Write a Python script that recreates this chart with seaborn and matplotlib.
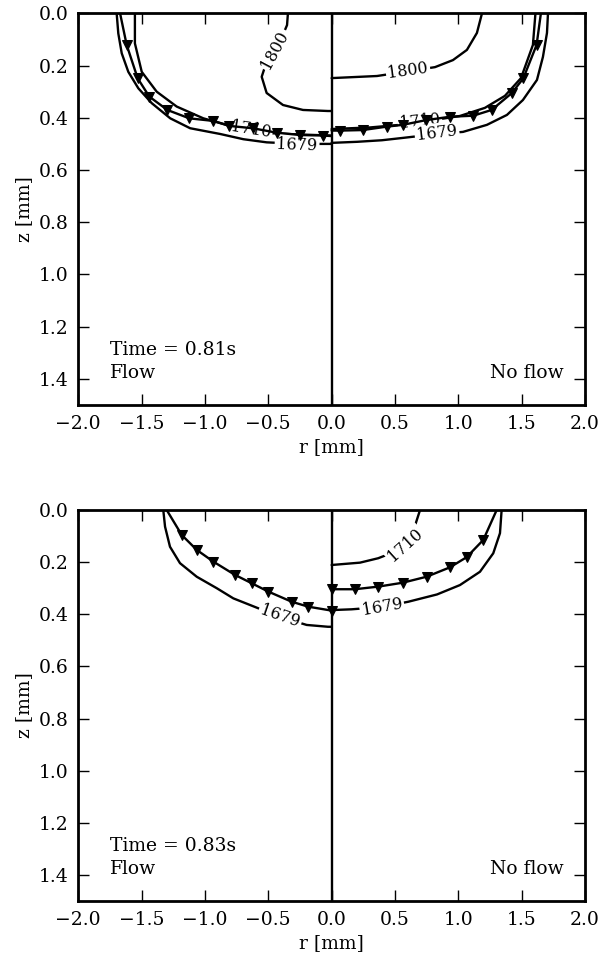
import numpy as np
import matplotlib
matplotlib.use("Agg")
import matplotlib.pyplot as plt
import seaborn as sns

# ---------------- data (r [mm], z [mm]) ----------------
# Panel 1: Time = 0.81 s
t1_flow_1679_r = [-1.697, -1.684, -1.657, -1.605, -1.526, -1.42, -1.274, -1.117, -0.88, -0.697, -0.513, -0.3, -0.15, -0.052, 0.0]
t1_flow_1679_z = [0.0, 0.077, 0.153, 0.224, 0.287, 0.344, 0.402, 0.44, 0.462, 0.482, 0.494, 0.499, 0.5, 0.5, 0.5]
t1_flow_1710_r = [-1.553, -1.553, -1.499, -1.381, -1.223, -1.013, -0.828, -0.644, -0.487, -0.25, 0.0]
t1_flow_1710_z = [0.0, 0.115, 0.224, 0.3, 0.357, 0.402, 0.427, 0.446, 0.459, 0.464, 0.468]
t1_flow_1800_r = [-0.345, -0.352, -0.40, -0.47, -0.53, -0.552, -0.513, -0.384, -0.226, -0.029, 0.0]
t1_flow_1800_z = [0.0, 0.045, 0.10, 0.16, 0.21, 0.243, 0.305, 0.351, 0.37, 0.374, 0.374]
t1_flow_front_r = [-1.670, -1.618, -1.531, -1.439, -1.297, -1.124, -0.934, -0.81, -0.623, -0.434, -0.25, -0.066, 0.0]
t1_flow_front_z = [0.0, 0.121, 0.249, 0.319, 0.37, 0.402, 0.412, 0.431, 0.44, 0.457, 0.466, 0.468, 0.470]

t1_noflow_1679_r = [0.0, 0.2, 0.397, 0.563, 0.832, 1.037, 1.226, 1.384, 1.51, 1.621, 1.668, 1.70, 1.708]
t1_noflow_1679_z = [0.496, 0.492, 0.486, 0.477, 0.462, 0.454, 0.427, 0.389, 0.332, 0.255, 0.167, 0.075, 0.0]
t1_noflow_1710_r = [0.0, 0.302, 0.539, 0.697, 0.855, 1.013, 1.21, 1.368, 1.495, 1.589, 1.609]
t1_noflow_1710_z = [0.443, 0.437, 0.427, 0.416, 0.405, 0.393, 0.362, 0.316, 0.248, 0.121, 0.0]
t1_noflow_1800_r = [0.0, 0.358, 0.603, 0.816, 0.958, 1.068, 1.147, 1.187]
t1_noflow_1800_z = [0.248, 0.24, 0.222, 0.206, 0.179, 0.14, 0.075, 0.0]
t1_noflow_front_r = [0.0, 0.066, 0.245, 0.434, 0.561, 0.745, 0.934, 1.118, 1.263, 1.421, 1.513, 1.618, 1.652]
t1_noflow_front_z = [0.449, 0.449, 0.447, 0.434, 0.427, 0.409, 0.396, 0.392, 0.37, 0.306, 0.249, 0.121, 0.0]

# Panel 2: Time = 0.83 s
t2_flow_1679_r = [-1.329, -1.315, -1.276, -1.197, -1.065, -0.907, -0.776, -0.631, -0.408, -0.197, -0.029, 0.0]
t2_flow_1679_z = [0.0, 0.064, 0.141, 0.204, 0.256, 0.3, 0.339, 0.367, 0.41, 0.441, 0.448, 0.448]
t2_flow_front_r = [-1.302, -1.183, -1.065, -0.934, -0.763, -0.631, -0.5, -0.315, -0.184, 0.0]
t2_flow_front_z = [0.0, 0.096, 0.153, 0.198, 0.249, 0.281, 0.313, 0.352, 0.371, 0.386]

t2_noflow_1679_r = [0.0, 0.158, 0.397, 0.605, 0.832, 1.013, 1.171, 1.276, 1.329, 1.342]
t2_noflow_1679_z = [0.384, 0.381, 0.372, 0.352, 0.324, 0.288, 0.237, 0.166, 0.089, 0.0]
t2_noflow_1710_r = [0.0, 0.224, 0.368, 0.50, 0.579, 0.645, 0.698]
t2_noflow_1710_z = [0.211, 0.202, 0.185, 0.16, 0.134, 0.08, 0.0]
t2_noflow_front_r = [0.0, 0.184, 0.368, 0.561, 0.75, 0.934, 1.066, 1.197, 1.303]
t2_noflow_front_z = [0.304, 0.304, 0.294, 0.279, 0.256, 0.22, 0.181, 0.115, 0.0]

# contour labels: (text, r, z, rotation)
t1_labels = [("1800", -0.447, 0.14, 62), ("1710", -0.64, 0.444, -9), ("1679", -0.273, 0.504, -2),
             ("1800", 0.603, 0.22, 8), ("1710", 0.697, 0.414, 6), ("1679", 0.832, 0.460, 7)]
t2_labels = [("1679", -0.408, 0.41, -19), ("1710", 0.579, 0.134, 42), ("1679", 0.397, 0.372, 10)]

times = ["0.81", "0.83"]
xticks = [-2.0, -1.5, -1.0, -0.5, 0.0, 0.5, 1.0, 1.5, 2.0]
yticks = [0.0, 0.2, 0.4, 0.6, 0.8, 1.0, 1.2, 1.4]

# ---------------- style ----------------
sns.set_style("ticks", {"axes.edgecolor": "black", "text.color": "black",
                        "xtick.color": "black", "ytick.color": "black",
                        "axes.labelcolor": "black"})
plt.rcParams["font.family"] = ["DejaVu Serif"]
plt.rcParams["mathtext.fontset"] = "dejavuserif"
plt.rcParams["font.size"] = 13.5
plt.rcParams["axes.linewidth"] = 2.0

fig = plt.figure(figsize=(6.04, 9.6), dpi=100)
ax1 = fig.add_axes([0.1296, 0.5781, 0.9685 - 0.1296, 0.9861 - 0.5781])
ax2 = fig.add_axes([0.1296, 0.0615, 0.9685 - 0.1296, 0.46875 - 0.0615])

LW = 1.7


def draw_line(ax, r, z, z_order=2):
    sns.lineplot(x=r, y=z, sort=False, estimator=None, color="k", lw=LW, ax=ax,
                 zorder=z_order, legend=False)


def draw_front(ax, r, z, mark_idx):
    sns.lineplot(x=r, y=z, sort=False, estimator=None, color="k", lw=LW, ax=ax,
                 marker="v", markersize=7, markevery=mark_idx, markeredgecolor="k",
                 markerfacecolor="k", zorder=5, legend=False)


def draw_labels(ax, labels):
    for txt, r, z, rot in labels:
        zo = 2.5 if txt == "1710" else 4
        ax.text(r, z, txt, fontsize=11.5, rotation=rot, ha="center", va="center",
                rotation_mode="anchor", zorder=zo, color="black",
                bbox=dict(boxstyle="square,pad=0.12", fc="white", ec="none"))


# panel 1
draw_line(ax1, t1_flow_1679_r, t1_flow_1679_z, 3)
draw_line(ax1, t1_flow_1710_r, t1_flow_1710_z)
draw_line(ax1, t1_flow_1800_r, t1_flow_1800_z)
draw_line(ax1, t1_noflow_1679_r, t1_noflow_1679_z, 3)
draw_line(ax1, t1_noflow_1710_r, t1_noflow_1710_z)
draw_line(ax1, t1_noflow_1800_r, t1_noflow_1800_z)
draw_labels(ax1, t1_labels)
draw_front(ax1, t1_flow_front_r, t1_flow_front_z, list(range(1, len(t1_flow_front_r) - 1)))
draw_front(ax1, t1_noflow_front_r, t1_noflow_front_z, list(range(1, len(t1_noflow_front_r) - 1)))

# panel 2
draw_line(ax2, t2_flow_1679_r, t2_flow_1679_z, 3)
draw_line(ax2, t2_noflow_1679_r, t2_noflow_1679_z, 3)
draw_line(ax2, t2_noflow_1710_r, t2_noflow_1710_z)
draw_labels(ax2, t2_labels)
draw_front(ax2, t2_flow_front_r, t2_flow_front_z, list(range(1, len(t2_flow_front_r))))
draw_front(ax2, t2_noflow_front_r, t2_noflow_front_z, list(range(0, len(t2_noflow_front_r) - 1)))

for ax, t in zip([ax1, ax2], times):
    ax.axvline(0.0, color="k", lw=LW, zorder=6)
    ax.set_xlim(-2.0, 2.0)
    ax.set_ylim(1.5, 0.0)
    ax.set_xticks(xticks)
    ax.set_yticks(yticks)
    ax.set_xticklabels([f"{v:.1f}".replace("-", "\u2212") for v in xticks])
    ax.set_yticklabels([f"{v:.1f}" for v in yticks])
    ax.tick_params(direction="in", top=True, right=True, length=8, width=1.0,
                   labelsize=13.5, pad=7, colors="black")
    ax.set_xlabel("r [mm]", fontsize=13.5, color="black")
    ax.set_ylabel("z [mm]", fontsize=13.5, color="black")
    for s in ax.spines.values():
        s.set_linewidth(2.0)
        s.set_color("black")
        s.set_visible(True)
    ax.text(0.063, 0.14, f"Time = {t}s", transform=ax.transAxes, fontsize=13.5,
            ha="left", va="center", color="black")
    ax.text(0.063, 0.082, "Flow", transform=ax.transAxes, fontsize=13.5,
            ha="left", va="center", color="black")
    ax.text(0.957, 0.082, "No flow", transform=ax.transAxes, fontsize=13.5,
            ha="right", va="center", color="black")

fig.savefig("out.png", dpi=100)
